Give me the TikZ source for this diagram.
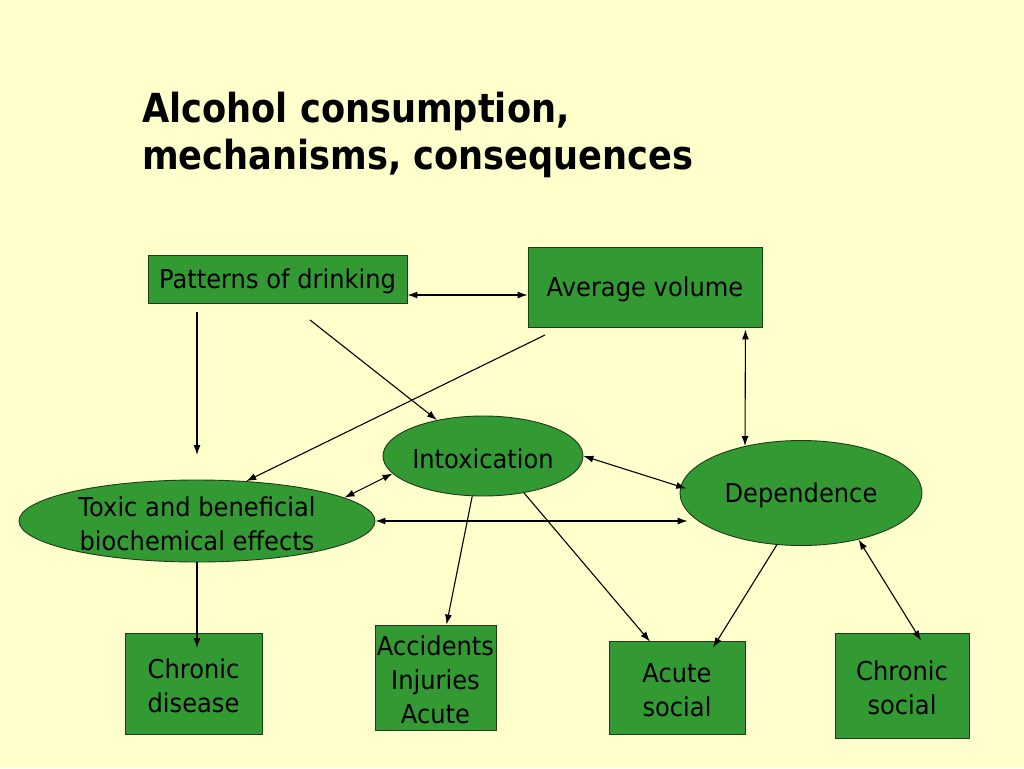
\documentclass[tikz,border=0pt]{standalone}
\usepackage{fontspec}
\setmainfont{DejaVu Sans}[FakeStretch=0.93]
\newfontfamily\titlefont{DejaVu Sans}[FakeStretch=0.88]
\usetikzlibrary{shapes.geometric,arrows.meta,calc}
\definecolor{bg}{HTML}{FFFFCC}
\definecolor{boxgreen}{HTML}{339933}
\definecolor{edge}{HTML}{1E3A1E}
\newcommand\bodysize{\fontsize{26}{34}\selectfont}
\newcommand\titlesize{\titlefont\bfseries\fontsize{40}{47}\selectfont}
\begin{document}
\begin{tikzpicture}[x=1pt,y=-1pt,font=\bodysize,
  box/.style={draw=edge, fill=boxgreen, line width=0.9pt, inner sep=0pt},
  oval/.style={ellipse, draw=edge, fill=boxgreen, line width=0.9pt, inner sep=0pt},
  txt/.style={align=center, yshift=-2.5pt, inner sep=0pt},
  tip/.tip={Latex[length=10pt,width=7pt]},
  arr/.style={line width=1.1pt, -tip},
  darr/.style={line width=1.1pt, tip-tip},
  ttl/.style={anchor=base west, inner sep=0pt, font=\titlesize}]
\useasboundingbox (0,0) rectangle (1024,768);
\fill[bg] (0,0) rectangle (1024,768);
% title
\node[ttl] (t1) at (142,122) {Alcohol consumption,};
\node[ttl] (t2) at (142,169) {mechanisms, consequences};
% nodes
\node[box, minimum width=259pt, minimum height=48pt,
      label={[txt,name=patt]center:Patterns of drinking}] (pat) at (277.5,279) {};
\node[box, minimum width=234pt, minimum height=80pt,
      label={[txt,name=avgt]center:Average volume}] (avg) at (645,287) {};
\node[oval, minimum width=200pt, minimum height=80pt,
      label={[txt,name=intoxt]center:Intoxication}] (intox) at (483,456) {};
\node[oval, minimum width=356pt, minimum height=82pt,
      label={[txt,name=toxt]center:{Toxic and beneficial\\biochemical effects}}] (tox) at (197,521) {};
\node[oval, minimum width=242pt, minimum height=105pt,
      label={[txt,name=dept]center:Dependence}] (dep) at (801,493) {};
\node[box, minimum width=137pt, minimum height=101pt,
      label={[txt,name=chdt]center:{Chronic\\disease}}] (chd) at (193.5,683.5) {};
\node[box, minimum width=121pt, minimum height=105pt,
      label={[txt,name=acct]center:{Accidents\\Injuries\\Acute}}] (acc) at (435.5,677.5) {};
\node[box, minimum width=136pt, minimum height=93pt,
      label={[txt,name=asoct]center:{Acute\\social}}] (asoc) at (677,687.5) {};
\node[box, minimum width=134pt, minimum height=105pt,
      label={[txt,name=csoct]center:{Chronic\\social}}] (csoc) at (902,685.5) {};
% free ends
\coordinate (p1) at (197,312);
\coordinate (p2) at (197,455);
\coordinate (p3) at (310,320);
\coordinate (a1) at (545,335);
\coordinate (cdtip) at (197,648);
% connectors
\draw[darr] ([yshift=-16pt]pat.east) -- ([yshift=-16pt]pat.east -| avg.west);
\draw[arr] (p1) -- (p2);
\draw[arr] (p3) -- (intox.142.5);
\draw[arr] (a1) -- (tox.39);
\draw[darr] ([xshift=-17pt,yshift=-2pt]avg.south east) -- (dep.140.6);
\draw[darr] (tox.9) -- (intox.191);
\draw[darr, shorten >=-6pt] (intox.east) -- (dep.177);
\draw[darr, shorten >=-8pt] (tox.east) -- (tox.east -| dep.west);
\draw[arr] (intox.255) -- ([xshift=11pt]acc.north);
\draw[arr] (intox.318) -- ([xshift=-27pt,yshift=-1pt]asoc.north);
\draw[arr] (dep.245) -- ([xshift=36pt,yshift=-7pt]asoc.north);
\draw[darr] (dep.321.6) -- ([xshift=19pt,yshift=-8pt]csoc.north);
\draw[arr] (tox.south) -- (cdtip);
\end{tikzpicture}
\end{document}
